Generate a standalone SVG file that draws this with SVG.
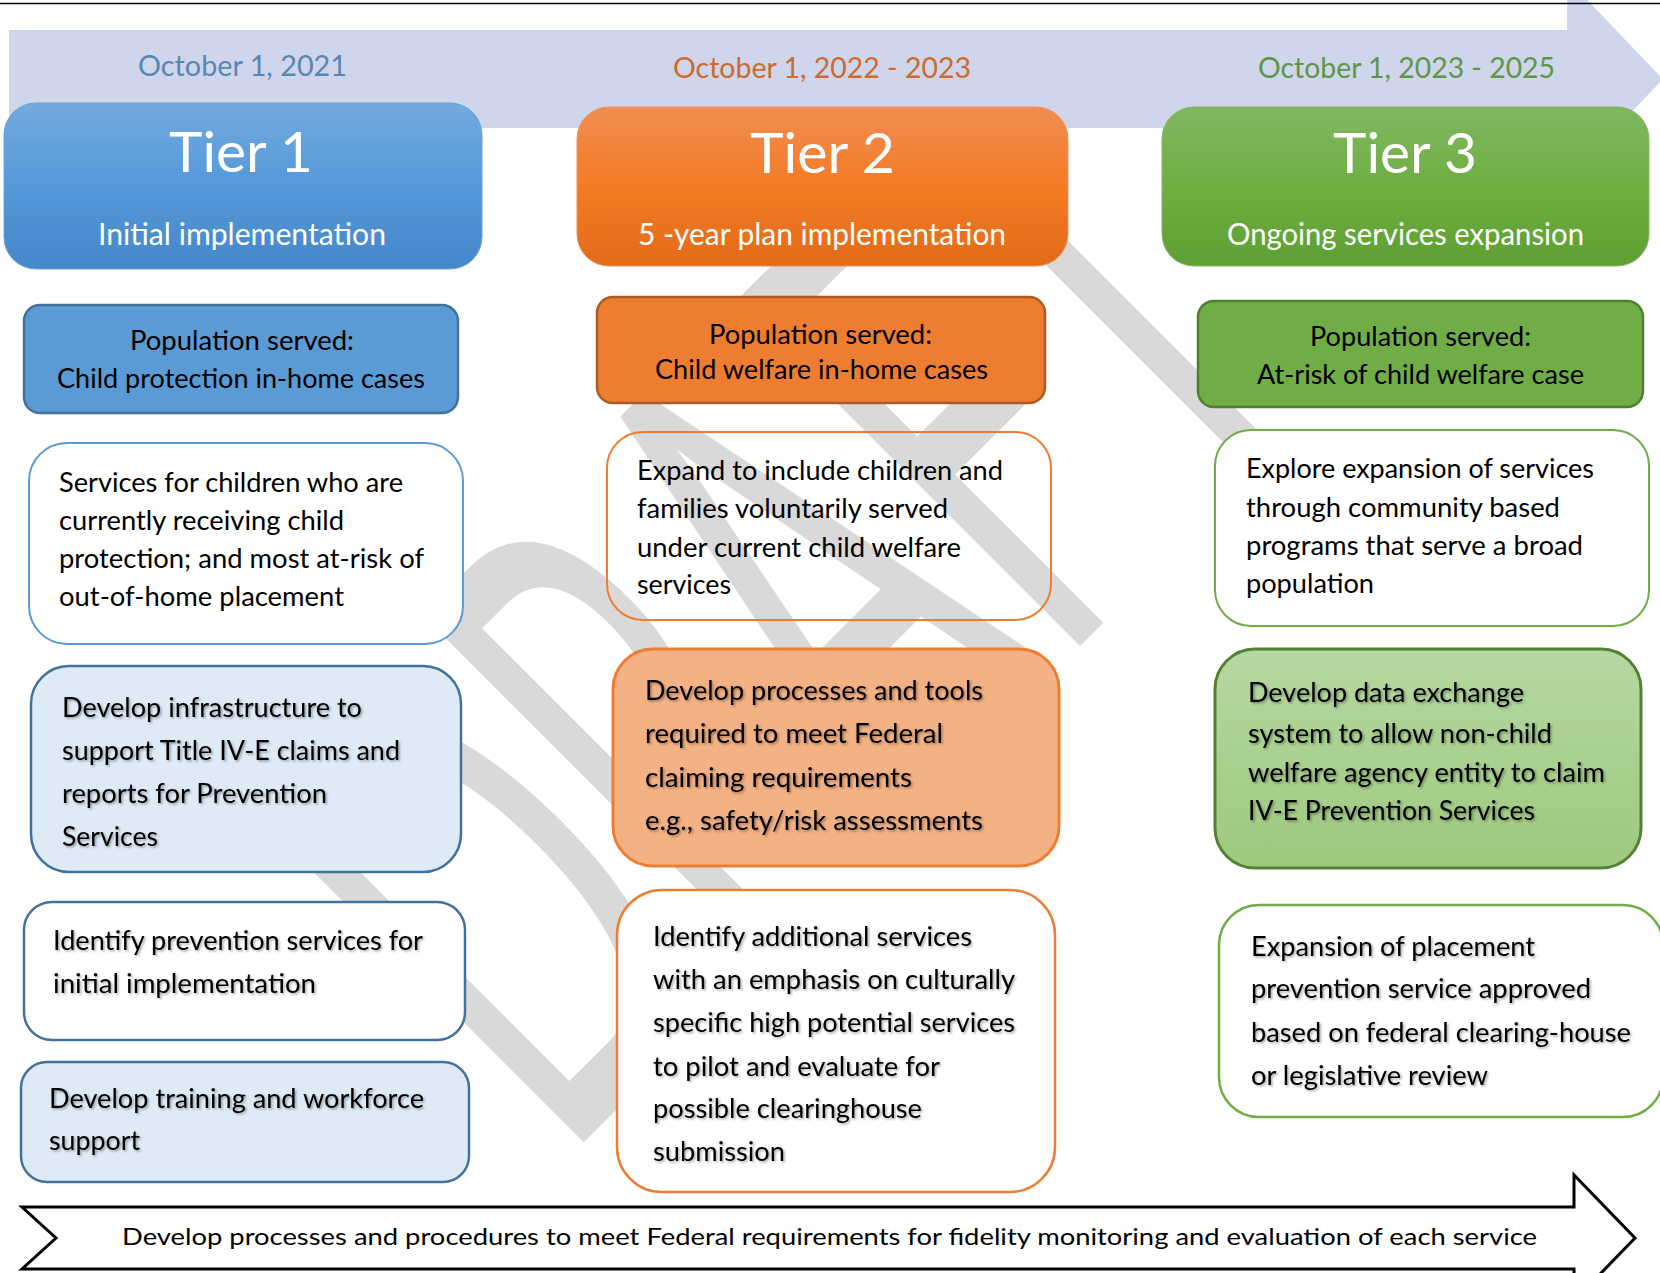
<svg xmlns="http://www.w3.org/2000/svg" width="1660" height="1273" viewBox="0 0 1660 1273">
<defs>
<linearGradient id="gBlue" x1="0" y1="0" x2="0" y2="1">
<stop offset="0" stop-color="#74AADF"/><stop offset="0.5" stop-color="#5499D9"/><stop offset="1" stop-color="#4587C8"/>
</linearGradient>
<linearGradient id="gOrange" x1="0" y1="0" x2="0" y2="1">
<stop offset="0" stop-color="#F18D52"/><stop offset="0.5" stop-color="#F37B25"/><stop offset="1" stop-color="#E26B1A"/>
</linearGradient>
<linearGradient id="gGreen" x1="0" y1="0" x2="0" y2="1">
<stop offset="0" stop-color="#80B762"/><stop offset="0.5" stop-color="#6EAF41"/><stop offset="1" stop-color="#5F9F33"/>
</linearGradient>
<linearGradient id="gLightGreen" x1="0" y1="0" x2="0" y2="1">
<stop offset="0" stop-color="#B6D8A2"/><stop offset="0.5" stop-color="#AAD18F"/><stop offset="1" stop-color="#9DC87F"/>
</linearGradient>
<filter id="sh" x="-5%" y="-20%" width="110%" height="140%">
<feDropShadow dx="1.5" dy="1.5" stdDeviation="0.8" flood-color="#000" flood-opacity="0.35"/>
</filter>
<style>
text{font-family:Lato,"Open Sans","Liberation Sans",sans-serif;}
.b{font-size:26px;fill:#000;}
.t{font-size:56px;fill:#fff;}
.s{font-size:30px;fill:#fff;}
.d{font-size:29px;}
.sh{filter:url(#sh);}
</style>
</defs>
<rect x="0" y="0" width="1660" height="1273" fill="#fff"/>
<g id="watermark">
<text transform="translate(583,1143) rotate(-45) scale(0.5,1)" x="-60" y="0" font-size="680" fill="#D9D9D9">DRAFT</text>
</g>
<g id="timeline">
<polygon points="9,30 1567,30 1567,-21 1663,79 1567,179 1567,128 9,128" fill="#CFD5EA"/>
<line x1="0" y1="3.5" x2="1660" y2="3.5" stroke="#000" stroke-width="1.5"/>
<text class="d" x="138" y="76" fill="#5A86B3" textLength="209" lengthAdjust="spacingAndGlyphs">October 1, 2021</text>
<text class="d" x="673" y="78" fill="#CD6B2F" textLength="298" lengthAdjust="spacingAndGlyphs">October 1, 2022 - 2023</text>
<text class="d" x="1258" y="78" fill="#5E9648" textLength="297" lengthAdjust="spacingAndGlyphs">October 1, 2023 - 2025</text>
</g>
<g id="tier1">
<rect x="4" y="103" width="478" height="166" rx="32" fill="url(#gBlue)" stroke="#6CA3DA" stroke-width="1"/>
<text class="t" x="169" y="172" textLength="144" lengthAdjust="spacingAndGlyphs">Tier 1</text>
<text class="s" x="98" y="245" textLength="288" lengthAdjust="spacingAndGlyphs">Initial implementation</text>
</g>
<g id="tier2">
<rect x="577" y="107" width="491" height="159" rx="32" fill="url(#gOrange)" stroke="#F08F58" stroke-width="1"/>
<text class="t" x="750" y="173" textLength="145" lengthAdjust="spacingAndGlyphs">Tier 2</text>
<text class="s" x="638" y="245" textLength="368" lengthAdjust="spacingAndGlyphs">5 -year plan implementation</text>
</g>
<g id="tier3">
<rect x="1162" y="107" width="487" height="159" rx="32" fill="url(#gGreen)" stroke="#82B865" stroke-width="1"/>
<text class="t" x="1333" y="173" textLength="144" lengthAdjust="spacingAndGlyphs">Tier 3</text>
<text class="s" x="1227" y="245" textLength="357" lengthAdjust="spacingAndGlyphs">Ongoing services expansion</text>
</g>
<g id="pop1">
<rect x="24" y="305" width="434" height="108" rx="16" fill="#5B9BD5" stroke="#41719C" stroke-width="2.5"/>
<text class="b" x="130" y="350" textLength="224" lengthAdjust="spacingAndGlyphs">Population served:</text>
<text class="b" x="57" y="388" textLength="368" lengthAdjust="spacingAndGlyphs">Child protection in-home cases</text>
</g>
<g id="pop2">
<rect x="597" y="297" width="448" height="106" rx="16" fill="#ED7D31" stroke="#AE5A21" stroke-width="2.5"/>
<text class="b" x="709" y="344" textLength="223" lengthAdjust="spacingAndGlyphs">Population served:</text>
<text class="b" x="655" y="379" textLength="333" lengthAdjust="spacingAndGlyphs">Child welfare in-home cases</text>
</g>
<g id="pop3">
<rect x="1198" y="301" width="445" height="106" rx="16" fill="#70AD47" stroke="#507E32" stroke-width="2.5"/>
<text class="b" x="1310" y="346" textLength="221" lengthAdjust="spacingAndGlyphs">Population served:</text>
<text class="b" x="1257" y="384" textLength="327" lengthAdjust="spacingAndGlyphs">At-risk of child welfare case</text>
</g>
<g id="services1">
<rect x="29" y="443" width="434" height="201" rx="38" fill="#fff" stroke="#5B9BD5" stroke-width="2"/>
<text class="b" x="59" y="492" textLength="344" lengthAdjust="spacingAndGlyphs">Services for children who are</text>
<text class="b" x="59" y="530" textLength="285" lengthAdjust="spacingAndGlyphs">currently receiving child</text>
<text class="b" x="59" y="568" textLength="365" lengthAdjust="spacingAndGlyphs">protection; and most at-risk of</text>
<text class="b" x="59" y="606" textLength="285" lengthAdjust="spacingAndGlyphs">out-of-home placement</text>
</g>
<g id="expand2">
<rect x="607" y="432" width="444" height="188" rx="36" fill="none" stroke="#ED7D31" stroke-width="2"/>
<text class="b" x="637" y="480" textLength="366" lengthAdjust="spacingAndGlyphs">Expand to include children and</text>
<text class="b" x="637" y="518" textLength="311" lengthAdjust="spacingAndGlyphs">families voluntarily served</text>
<text class="b" x="637" y="557" textLength="324" lengthAdjust="spacingAndGlyphs">under current child welfare</text>
<text class="b" x="637" y="594" textLength="94" lengthAdjust="spacingAndGlyphs">services</text>
</g>
<g id="explore3">
<rect x="1215" y="430" width="434" height="196" rx="36" fill="#fff" stroke="#70AD47" stroke-width="2"/>
<text class="b" x="1246" y="478" textLength="348" lengthAdjust="spacingAndGlyphs">Explore expansion of services</text>
<text class="b" x="1246" y="517" textLength="314" lengthAdjust="spacingAndGlyphs">through community based</text>
<text class="b" x="1246" y="555" textLength="337" lengthAdjust="spacingAndGlyphs">programs that serve a broad</text>
<text class="b" x="1246" y="593" textLength="128" lengthAdjust="spacingAndGlyphs">population</text>
</g>
<g id="infra1">
<rect x="31" y="666" width="430" height="206" rx="38" fill="#DEEBF7" stroke="#41719C" stroke-width="2.5"/>
<g class="sh">
<text class="b" x="62" y="717" textLength="300" lengthAdjust="spacingAndGlyphs">Develop infrastructure to</text>
<text class="b" x="62" y="760" textLength="338" lengthAdjust="spacingAndGlyphs">support Title IV-E claims and</text>
<text class="b" x="62" y="803" textLength="265" lengthAdjust="spacingAndGlyphs">reports for Prevention</text>
<text class="b" x="62" y="846" textLength="96" lengthAdjust="spacingAndGlyphs">Services</text>
</g>
</g>
<g id="processes2">
<rect x="613" y="649" width="446" height="217" rx="40" fill="#F4B183" stroke="#ED7D31" stroke-width="3"/>
<g class="sh">
<text class="b" x="645" y="700" textLength="338" lengthAdjust="spacingAndGlyphs">Develop processes and tools</text>
<text class="b" x="645" y="743" textLength="298" lengthAdjust="spacingAndGlyphs">required to meet Federal</text>
<text class="b" x="645" y="787" textLength="267" lengthAdjust="spacingAndGlyphs">claiming requirements</text>
<text class="b" x="645" y="830" textLength="338" lengthAdjust="spacingAndGlyphs">e.g., safety/risk assessments</text>
</g>
</g>
<g id="data3">
<rect x="1215" y="649" width="426" height="219" rx="40" fill="url(#gLightGreen)" stroke="#548235" stroke-width="3"/>
<g class="sh">
<text class="b" x="1248" y="702" textLength="276" lengthAdjust="spacingAndGlyphs">Develop data exchange</text>
<text class="b" x="1248" y="743" textLength="304" lengthAdjust="spacingAndGlyphs">system to allow non-child</text>
<text class="b" x="1248" y="782" textLength="357" lengthAdjust="spacingAndGlyphs">welfare agency entity to claim</text>
<text class="b" x="1248" y="820" textLength="287" lengthAdjust="spacingAndGlyphs">IV-E Prevention Services</text>
</g>
</g>
<g id="identify1">
<rect x="24" y="902" width="441" height="138" rx="28" fill="#fff" stroke="#41719C" stroke-width="2.5"/>
<g class="sh">
<text class="b" x="53" y="950" textLength="370" lengthAdjust="spacingAndGlyphs">Identify prevention services for</text>
<text class="b" x="53" y="993" textLength="263" lengthAdjust="spacingAndGlyphs">initial implementation</text>
</g>
</g>
<g id="additional2">
<rect x="617" y="890" width="438" height="302" rx="45" fill="#fff" stroke="#ED7D31" stroke-width="2.5"/>
<g class="sh">
<text class="b" x="653" y="946" textLength="319" lengthAdjust="spacingAndGlyphs">Identify additional services</text>
<text class="b" x="653" y="989" textLength="362" lengthAdjust="spacingAndGlyphs">with an emphasis on culturally</text>
<text class="b" x="653" y="1032" textLength="362" lengthAdjust="spacingAndGlyphs">specific high potential services</text>
<text class="b" x="653" y="1076" textLength="287" lengthAdjust="spacingAndGlyphs">to pilot and evaluate for</text>
<text class="b" x="653" y="1118" textLength="269" lengthAdjust="spacingAndGlyphs">possible clearinghouse</text>
<text class="b" x="653" y="1161" textLength="132" lengthAdjust="spacingAndGlyphs">submission</text>
</g>
</g>
<g id="expansion3">
<rect x="1219" y="905" width="444" height="212" rx="40" fill="#fff" stroke="#70AD47" stroke-width="2.5"/>
<g class="sh">
<text class="b" x="1251" y="956" textLength="284" lengthAdjust="spacingAndGlyphs">Expansion of placement</text>
<text class="b" x="1251" y="998" textLength="340" lengthAdjust="spacingAndGlyphs">prevention service approved</text>
<text class="b" x="1251" y="1042" textLength="380" lengthAdjust="spacingAndGlyphs">based on federal clearing-house</text>
<text class="b" x="1251" y="1085" textLength="237" lengthAdjust="spacingAndGlyphs">or legislative review</text>
</g>
</g>
<g id="training1">
<rect x="21" y="1062" width="448" height="120" rx="26" fill="#DEEBF7" stroke="#41719C" stroke-width="2.5"/>
<g class="sh">
<text class="b" x="49" y="1108" textLength="375" lengthAdjust="spacingAndGlyphs">Develop training and workforce</text>
<text class="b" x="49" y="1150" textLength="91" lengthAdjust="spacingAndGlyphs">support</text>
</g>
</g>
<g id="connectors">
<polygon points="22,1207 1574,1207 1574,1175 1635,1238 1574,1301 1574,1269 22,1269 56,1238" fill="#fff" stroke="#000" stroke-width="3"/>
<text x="122" y="1245" font-size="24" fill="#000" textLength="1415" lengthAdjust="spacingAndGlyphs">Develop processes and procedures to meet Federal requirements for fidelity monitoring and evaluation of each service</text>
</g>
</svg>
